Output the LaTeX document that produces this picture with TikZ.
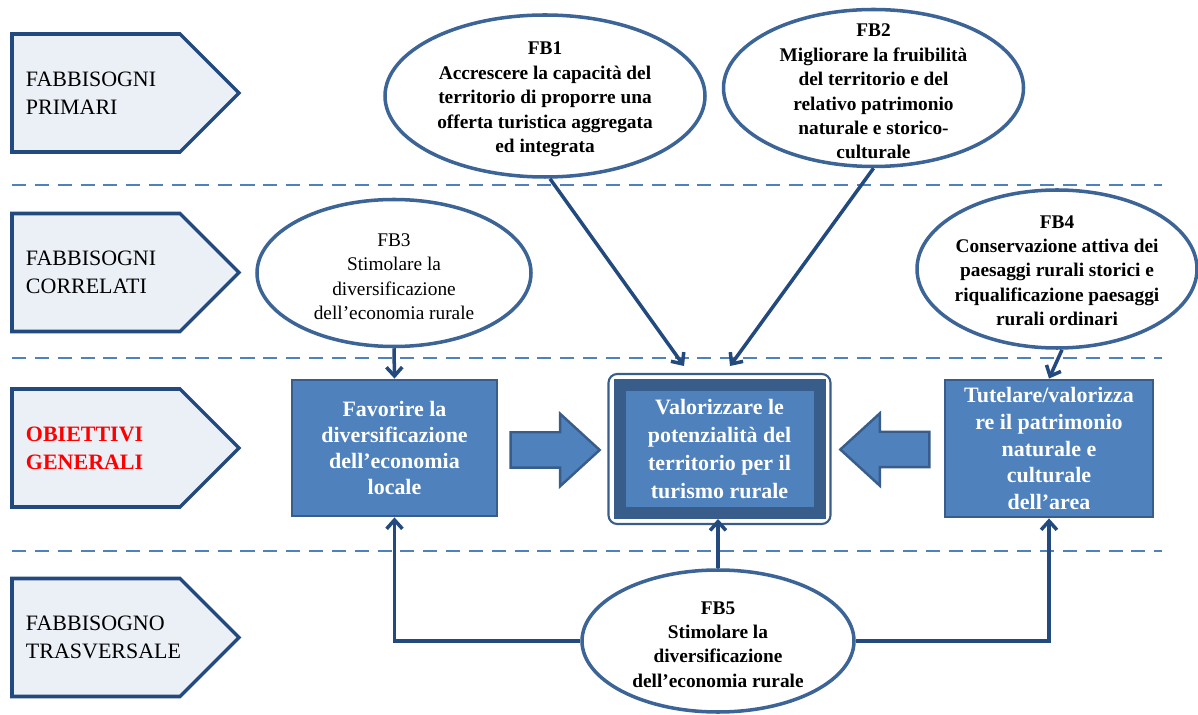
\documentclass[tikz,border=0pt]{standalone}
\usepackage{fontspec}
\setmainfont{Liberation Serif}
\usepackage{tikz}
\usetikzlibrary{shapes.symbols,shapes.geometric,shapes.arrows,arrows.meta,positioning,calc}
\definecolor{darkblue}{HTML}{234A7E}
\definecolor{lineblue}{HTML}{3C6496}
\definecolor{boxblue}{HTML}{4F81BD}
\definecolor{bandblue}{HTML}{385D8A}
\definecolor{palefill}{HTML}{EBF0F7}
\tikzset{
level/.style = {signal, signal to=east, signal pointer angle=90, draw=darkblue, line width=2pt, fill=palefill, text width=2.8cm, inner xsep=0.28cm, inner ysep=0pt, minimum height=2.36cm, align=left, font=\fontsize{12.5}{15.9}\selectfont},
need/.style = {ellipse, draw=lineblue, line width=2pt, fill=white},
needtext/.style = {align=center, font=\fontsize{11}{13.9}\selectfont\bfseries},
goal/.style = {draw=bandblue, line width=1.6pt, fill=boxblue, text=white, align=center, font=\fontsize{12.5}{14.8}\selectfont\bfseries},
bigarrow/.style = {single arrow, draw=bandblue, line width=1.4pt, fill=boxblue, inner sep=0.33cm, single arrow head extend=0.37cm, minimum height=1.78cm, single arrow tip angle=85},
sep/.style = {draw=boxblue, line width=1.7pt, dash pattern=on 8pt off 5pt},
link/.style = {draw=darkblue, line width=2pt}
}

\begin{document}
\begin{tikzpicture}[auto, node distance=3.5cm, >={Straight Barb[length=5pt,width=9pt]}]
  \useasboundingbox (0,0) rectangle (23.96,-14.3);

  % colonna di sinistra
  \node [level] at (1.92,-1.86)                    (primari)    {FABBISOGNI\\PRIMARI};
  \node [level, below of=primari, node distance=3.59cm]   (correlati)  {FABBISOGNI\\CORRELATI};
  \node [level, below of=correlati, node distance=3.51cm] (obiettivi)  {\textcolor{red}{\bfseries OBIETTIVI\\GENERALI}};
  \node [level, below of=obiettivi, node distance=3.79cm] (trasv)      {FABBISOGNO\\TRASVERSALE};

  % separatori
  \draw [sep] (0.24,-3.7)   -- (23.24,-3.7);
  \draw [sep] (0.24,-7.16)  -- (23.24,-7.16);
  \draw [sep] (0.24,-11.02) -- (23.24,-11.02);

  % fabbisogni
  \node [need, minimum width=6.4cm, minimum height=3.24cm] at (10.9,-1.92)  (fb1)
    [label={[needtext, yshift=-2pt]center:FB1\\Accrescere la capacità del\\territorio di proporre una\\offerta turistica aggregata\\ed integrata}] {};
  \node [need, minimum width=6cm, minimum height=3.14cm] at (17.47,-1.76)   (fb2)
    [label={[needtext, yshift=-2pt]center:FB2\\Migliorare la fruibilità\\del territorio e del\\relativo patrimonio\\naturale e storico-\\culturale}] {};
  \node [need, minimum width=5.48cm, minimum height=2.94cm] at (7.88,-5.46) (fb3)
    [label={[needtext, font=\fontsize{11}{13.9}\selectfont, yshift=-2pt]center:FB3\\Stimolare la\\diversificazione\\dell’economia rurale}] {};
  \node [need, minimum width=5.6cm, minimum height=3.16cm] at (21.14,-5.38) (fb4)
    [label={[needtext, yshift=-1pt]center:FB4\\Conservazione attiva dei\\paesaggi rurali storici e\\riqualificazione paesaggi\\rurali ordinari}] {};
  \node [need, minimum width=5.44cm, minimum height=2.84cm] at (14.36,-12.82) (fb5)
    [label={[needtext, yshift=-2pt]center:FB5\\Stimolare la\\diversificazione\\dell’economia rurale}] {};

  % obiettivi
  \node [goal, minimum width=4.1cm, minimum height=2.72cm] at (7.89,-8.96)  (box1)
    {Favorire la\\diversificazione\\dell’economia\\locale};
  \node [goal, draw=bandblue, line width=0.24cm, minimum width=4cm, minimum height=2.56cm,
         font=\fontsize{12.5}{15.8}\selectfont\bfseries] at (14.39,-8.98)    (vp)
    {Valorizzare le\\potenzialità del\\territorio per il\\turismo rurale};
  \draw [bandblue, line width=1.2pt, rounded corners=5pt]
    ($(vp.north west)+(-0.1,0.1)$) rectangle ($(vp.south east)+(0.1,-0.1)$);
  \node [goal, minimum width=4.16cm, minimum height=2.74cm,
         font=\fontsize{12.5}{15.3}\selectfont\bfseries] at (20.98,-8.97)  (box3)
    {Tutelare/valorizza\\re il patrimonio\\naturale e\\culturale\\dell’area};

  \node [bigarrow] at (10.91,-9.0)                    (arr1) {};
  \node [bigarrow, shape border rotate=180] at (17.89,-8.99) (arr2) {};

  \draw [link,->] ([xshift=0.1cm]fb1.south) -- ([xshift=-0.71cm,yshift=0.26cm]vp.north);
  \draw [link,->] (fb2.south) -- ([xshift=0.21cm,yshift=0.26cm]vp.north);
  \draw [link,->] (fb3.south) -- (box1.north);
  \draw [link,->] ([xshift=0.1cm]fb4.south) -- (box3.north);
  \draw [link,->] (fb5.north) -- (vp.south -| fb5.north);
  \draw [link,->] (fb5.west) -| (box1.south);
  \draw [link,->] (fb5.east) -| (box3.south);
\end{tikzpicture}
\end{document}
